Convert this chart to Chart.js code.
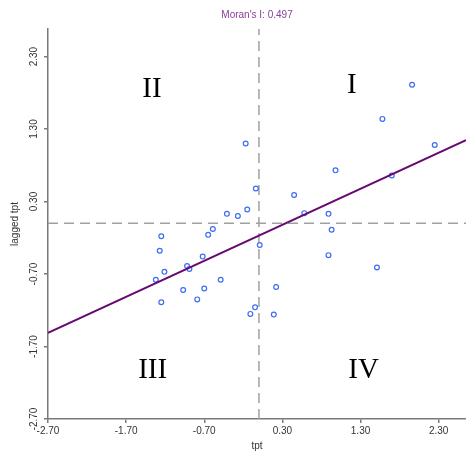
<!DOCTYPE html>
<html>
<head>
<meta charset="utf-8">
<script src="https://cdn.jsdelivr.net/npm/chart.js@4.4.1/dist/chart.umd.min.js"></script>
<style>
  html, body { margin: 0; padding: 0; background: #fff; }
</style>
</head>
<body>
<canvas id="grafico" width="466" height="452"></canvas>
<script>
// valores
const tpt = [1.96, 1.58, 2.25, -0.17, 0.98, 1.70, -0.04, 0.45, -0.41, -0.27,
             -0.15, 0.58, 0.89, -0.59, -0.65, -1.25, 0.93, -1.27, 0.01, -0.72,
             0.89, -1.21, -0.92, -0.89, -1.32, -0.49, 0.22, -0.97, -0.70, 1.51,
             -1.25, -0.79, -0.05, -0.11, 0.19];
const laggedTpt = [1.91, 1.44, 1.08, 1.10, 0.73, 0.66, 0.48, 0.39, 0.13, 0.10,
                   0.19, 0.14, 0.13, -0.08, -0.16, -0.18, -0.09, -0.38, -0.30, -0.46,
                   -0.44, -0.67, -0.59, -0.63, -0.78, -0.78, -0.88, -0.92, -0.90, -0.61,
                   -1.09, -1.05, -1.16, -1.25, -1.26];
const tickVals = [-2.70, -1.70, -0.70, 0.30, 1.30, 2.30];
const xRange = [-2.70, 2.65];
const yRange = [-2.70, 2.68];
const moranI = 0.497;
const intercepto = -0.17;
const quadNomes = ['I', 'II', 'III', 'IV'];
const quadX = [1.19, -1.37, -1.36, 1.34];
const quadY = [1.90, 1.85, -2.03, -2.03];

const pontos = tpt.map((x, i) => ({x, y: laggedTpt[i]}));
const regressao = xRange.map(x => ({x, y: intercepto + moranI * x}));
const linhaH = xRange.map(x => ({x, y: 0}));
const linhaV = yRange.map(y => ({x: 0, y}));

const corEixo = '#7a7a7a';
const corTexto = '#333';

// numerais dos quadrantes
const quadrantes = {
  id: 'quadrantes',
  afterDatasetsDraw(chart) {
    const {ctx, scales: {x, y}} = chart;
    ctx.save();
    ctx.font = '29px "Liberation Serif", "DejaVu Serif", serif';
    ctx.fillStyle = '#000';
    ctx.textAlign = 'center';
    ctx.textBaseline = 'middle';
    quadNomes.forEach((n, i) => {
      ctx.fillText(n, x.getPixelForValue(quadX[i]), y.getPixelForValue(quadY[i]));
    });
    ctx.restore();
  }
};

const eixo = (titulo, pos, fit, tituloPad) => ({
  type: 'linear',
  position: pos,
  min: pos === 'bottom' ? xRange[0] : yRange[0],
  max: pos === 'bottom' ? xRange[1] : yRange[1],
  afterBuildTicks: s => { s.ticks = tickVals.map(v => ({value: v})); },
  afterFit: fit,
  border: {display: true, color: corEixo, width: 1.5},
  grid: {drawOnChartArea: false, drawTicks: true, tickLength: 4, color: corEixo, lineWidth: 1.5},
  ticks: pos === 'bottom'
    ? {color: corTexto, font: {family: '"Liberation Sans", Arial, sans-serif', size: 10}, padding: 2,
       maxRotation: 0, autoSkip: false, callback: v => v.toFixed(2)}
    : {color: corTexto, font: {family: '"Liberation Sans", Arial, sans-serif', size: 10}, padding: -2,
       minRotation: 90, maxRotation: 90, crossAlign: 'center', autoSkip: false, callback: v => v.toFixed(2)},
  title: {display: true, text: titulo, color: corTexto,
          font: {family: '"Liberation Sans", Arial, sans-serif', size: 10}, padding: tituloPad}
});

new Chart(document.getElementById('grafico'), {
  type: 'scatter',
  data: {
    datasets: [
      {
        data: regressao, showLine: true, borderColor: '#660a72', borderWidth: 2,
        pointRadius: 0, order: 1
      },
      {
        data: pontos, pointStyle: 'circle', pointRadius: 2.4, borderWidth: 1.2,
        borderColor: '#3d6ef2', backgroundColor: 'rgba(0,0,0,0)', order: 2
      },
      {
        data: linhaH, showLine: true, borderColor: '#a0a0a0', borderWidth: 1.5,
        borderDash: [10, 6], pointRadius: 0, order: 3
      },
      {
        data: linhaV, showLine: true, borderColor: '#a0a0a0', borderWidth: 1.5,
        borderDash: [10, 6], pointRadius: 0, order: 3
      }
    ]
  },
  options: {
    responsive: false,
    animation: false,
    devicePixelRatio: 1,
    events: [],
    layout: {padding: 0, autoPadding: false},
    plugins: {
      legend: {display: false},
      tooltip: {enabled: false},
      title: {
        display: true,
        fullSize: false,
        text: "Moran's I: 0.497",
        color: '#8a3f9a',
        font: {family: '"Liberation Sans", Arial, sans-serif', size: 10, weight: 'normal'},
        padding: {top: 9, bottom: 8}
      }
    },
    scales: {
      x: eixo('tpt', 'bottom', s => { s.height = 33; }, {top: 0, bottom: 0}),
      y: eixo('lagged tpt', 'left', s => { s.width = 48; }, {top: 9, bottom: 0})
    }
  },
  plugins: [quadrantes]
});
</script>
</body>
</html>
